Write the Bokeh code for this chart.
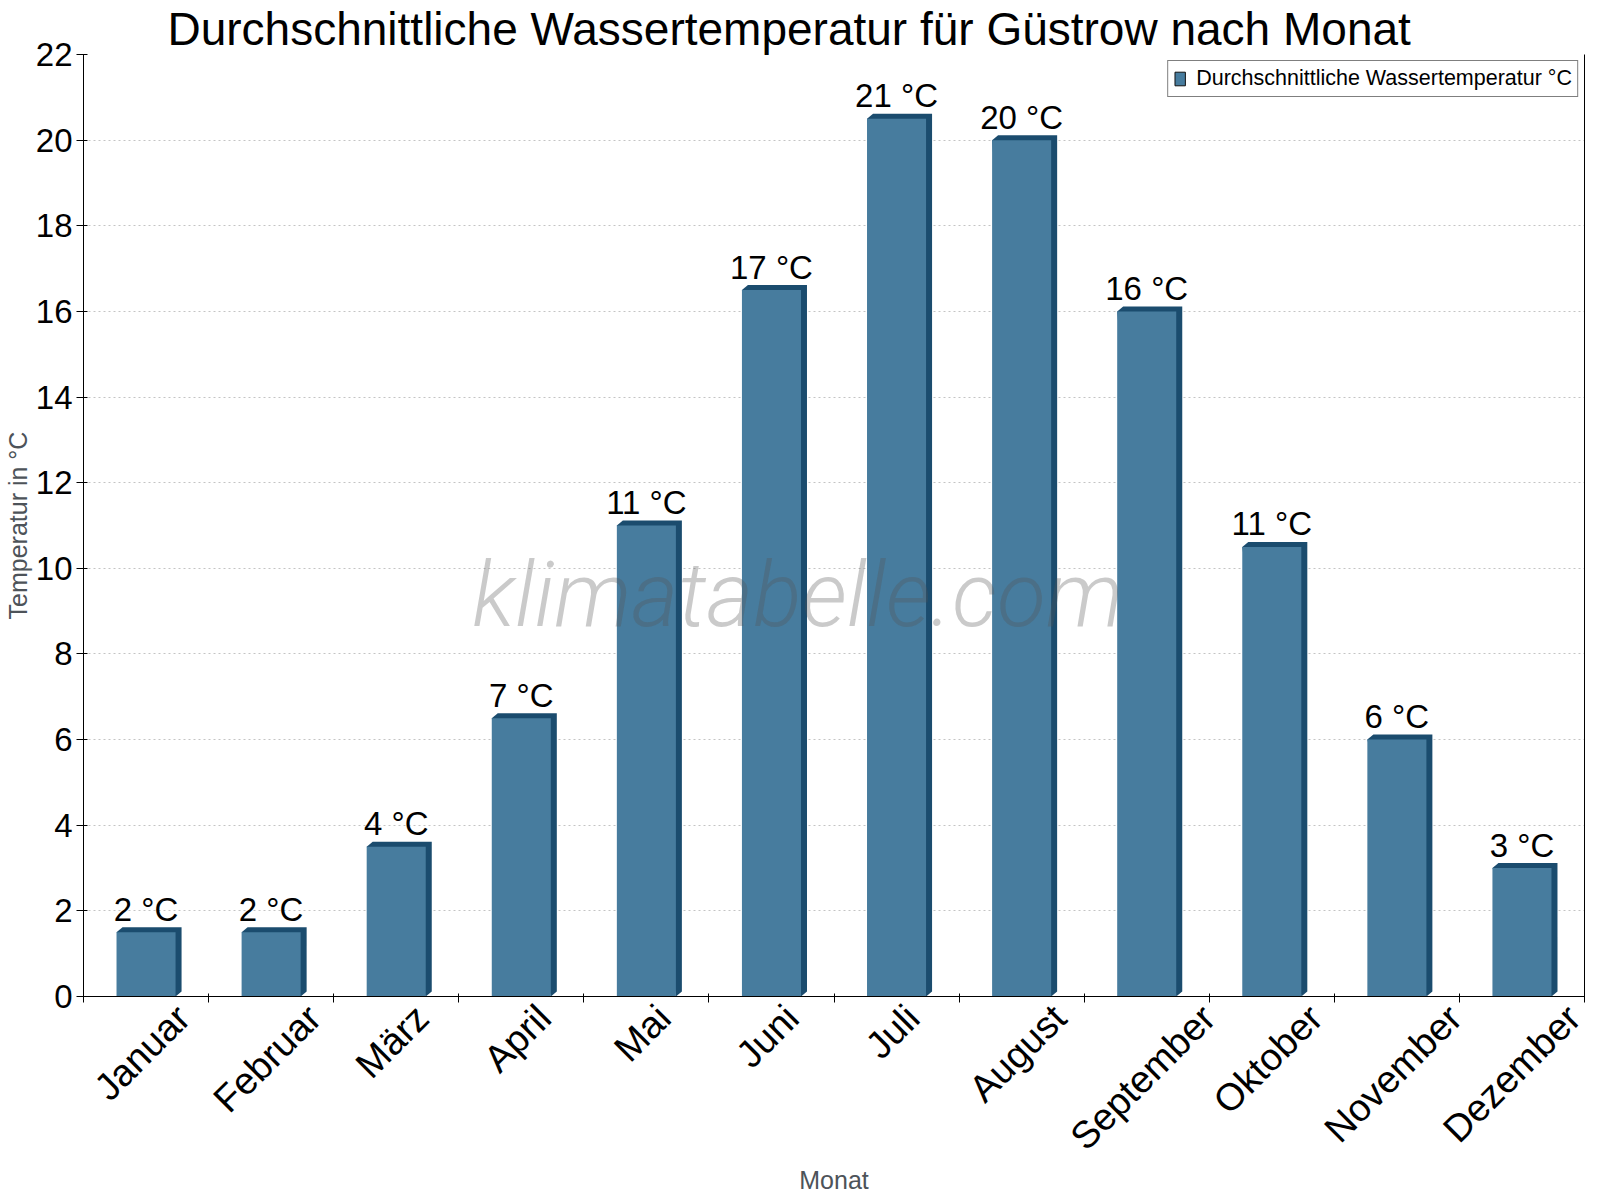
import math

from bokeh.plotting import figure
from bokeh.embed import file_html
from bokeh.resources import INLINE
from bokeh.models import (ColumnDataSource, FixedTicker, LinearAxis, Legend,
                          LegendItem, Range1d)
from bokeh.core.properties import value

# data
months = ["Januar", "Februar", "März", "April", "Mai", "Juni", "Juli",
          "August", "September", "Oktober", "November", "Dezember"]
water_temp = [1.5, 1.5, 3.5, 6.5, 11.0, 16.5, 20.5, 20.0, 16.0, 10.5, 6.0, 3.0]
y_ticks = list(range(0, 23, 2))

FONT = "Liberation Sans"
FRONT = "#477c9e"
SIDE = "#1b4c6e"
XLABEL_PX = 38
FRAME_W = 1501

bar_w = 0.472   # front face width in category units
dx = 0.048      # 3d depth to the right (category units)
dy = 0.116      # 3d depth upwards (degrees)

centers = [i + 0.5 for i in range(len(months))]
left = [c - bar_w / 2 for c in centers]
right = [c + bar_w / 2 for c in centers]

# dark side + top face behind each front face
side_xs = [[l, l + dx, r + dx, r + dx, r] for l, r in zip(left, right)]
side_ys = [[v, v + dy, v + dy, dy, 0] for v in water_temp]

labels = [f"{int(math.floor(v + 0.5))} °C" for v in water_temp]

src = ColumnDataSource(dict(x=centers, top=water_temp, label=labels,
                            ly=[v + dy for v in water_temp]))

# rough Arial advance widths, used to centre the rotated month names
# under their bars (bokeh anchors rotated labels at their end)
ARIAL_W = {"J": .5, "a": .556, "n": .556, "u": .556, "r": .333, "F": .611,
           "e": .556, "b": .556, "M": .833, "ä": .556, "z": .5, "p": .556,
           "i": .222, "l": .222, "A": .667, "g": .556, "s": .5, "t": .278,
           "S": .667, "m": .833, "O": .778, "k": .5, "o": .556, "N": .722,
           "v": .5, "D": .722}


def label_pos(c, text):
    length = sum(ARIAL_W.get(ch, .556) for ch in text) * XLABEL_PX
    shift = 0.354 * length - 0.105 * XLABEL_PX
    return round(c + shift / (FRAME_W / len(months)), 4)


label_ticks = [label_pos(c, m) for c, m in zip(centers, months)]

p = figure(
    frame_width=FRAME_W,
    frame_height=942,
    x_range=Range1d(0, len(months)),
    y_range=Range1d(0, 22),
    output_backend="svg",
    toolbar_location=None,
    tools="",
    min_border_left=76,
    min_border_top=36,
    min_border_right=4,
    min_border_bottom=2,
)
p.outline_line_color = None
p.background_fill_color = "white"

p.title.text = "Durchschnittliche Wassertemperatur für Güstrow nach Monat"
p.title.text_font = FONT
p.title.text_font_size = "46px"
p.title.text_font_style = "normal"
p.title.text_color = "black"
p.title.align = "left"
p.title.standoff = 0
p.title.offset = 84

p.patches(side_xs, side_ys, fill_color=SIDE, line_color=None)
bars = p.vbar(x="x", top="top", width=bar_w, source=src, fill_color=FRONT,
              line_color=None)

p.text(x="x", y="ly", text="label", source=src, text_align="center",
       text_baseline="alphabetic", y_offset=-18, text_font=value(FONT),
       text_font_size="33px", text_color="black")

# watermark
p.text(x=[5.71], y=[8.63], text=["klimatabelle.com"], text_align="center",
       text_baseline="alphabetic", y_offset=-31,
       text_font=value("Roboto Light"), text_font_style="italic",
       text_font_size="90px", text_color="#545454", text_alpha=0.31)

# legend swatch: hidden copy of the bars with a dark outline
dummy = p.vbar(x="x", top="top", width=bar_w, source=src, fill_color=FRONT,
               line_color="#111111", visible=False)
legend = Legend(items=[LegendItem(label="Durchschnittliche Wassertemperatur °C",
                                  renderers=[dummy])],
                location="top_right")
legend.margin = 6
legend.padding = 5
legend.spacing = 0
legend.glyph_width = 13
legend.glyph_height = 17
legend.label_standoff = 10
legend.label_text_font = FONT
legend.label_text_font_size = "21.5px"
legend.label_text_color = "black"
legend.border_line_color = "black"
legend.border_line_width = 1
legend.background_fill_alpha = 1
p.add_layout(legend)

# grid
p.xgrid.visible = False
p.ygrid.ticker = FixedTicker(ticks=y_ticks)
p.ygrid.grid_line_color = "#c4c4c4"
p.ygrid.grid_line_dash = "2 3"

# x axis: month names under the bars, ticks between them
xa = p.xaxis[0]
xa.ticker = FixedTicker(ticks=label_ticks,
                        minor_ticks=list(range(len(months) + 1)))
xa.major_label_overrides = {t: m for t, m in zip(label_ticks, months)}
xa.major_label_orientation = math.pi / 4
xa.major_label_text_font = FONT
xa.major_label_text_font_size = f"{XLABEL_PX}px"
xa.major_label_text_color = "black"
xa.major_label_standoff = 9
xa.major_tick_in = 0
xa.major_tick_out = 0
xa.minor_tick_in = 3
xa.minor_tick_out = 6
xa.minor_tick_line_color = "black"
xa.axis_line_color = "black"
xa.axis_label = "Monat"
xa.axis_label_text_font = FONT
xa.axis_label_text_font_size = "25px"
xa.axis_label_text_font_style = "normal"
xa.axis_label_text_color = "#4d5359"
xa.axis_label_standoff = -10

ya = p.yaxis[0]
ya.ticker = FixedTicker(ticks=y_ticks)
ya.major_label_text_font = FONT
ya.major_label_text_font_size = "33px"
ya.major_label_text_color = "black"
ya.major_label_standoff = 4
ya.major_tick_in = 4
ya.major_tick_out = 7
ya.minor_tick_line_color = None
ya.axis_line_color = "black"
ya.axis_label = "Temperatur in °C"
ya.axis_label_text_font = FONT
ya.axis_label_text_font_size = "25px"
ya.axis_label_text_font_style = "normal"
ya.axis_label_text_color = "#4d5359"
ya.axis_label_standoff = 1

# plain line on the right edge of the frame
ra = LinearAxis(ticker=FixedTicker(ticks=[]), major_label_text_font_size="0px",
                major_tick_in=0, major_tick_out=0, minor_tick_in=0,
                minor_tick_out=0, axis_line_color="black")
p.add_layout(ra, "right")

open("out.html", "w").write(file_html(p, INLINE))
